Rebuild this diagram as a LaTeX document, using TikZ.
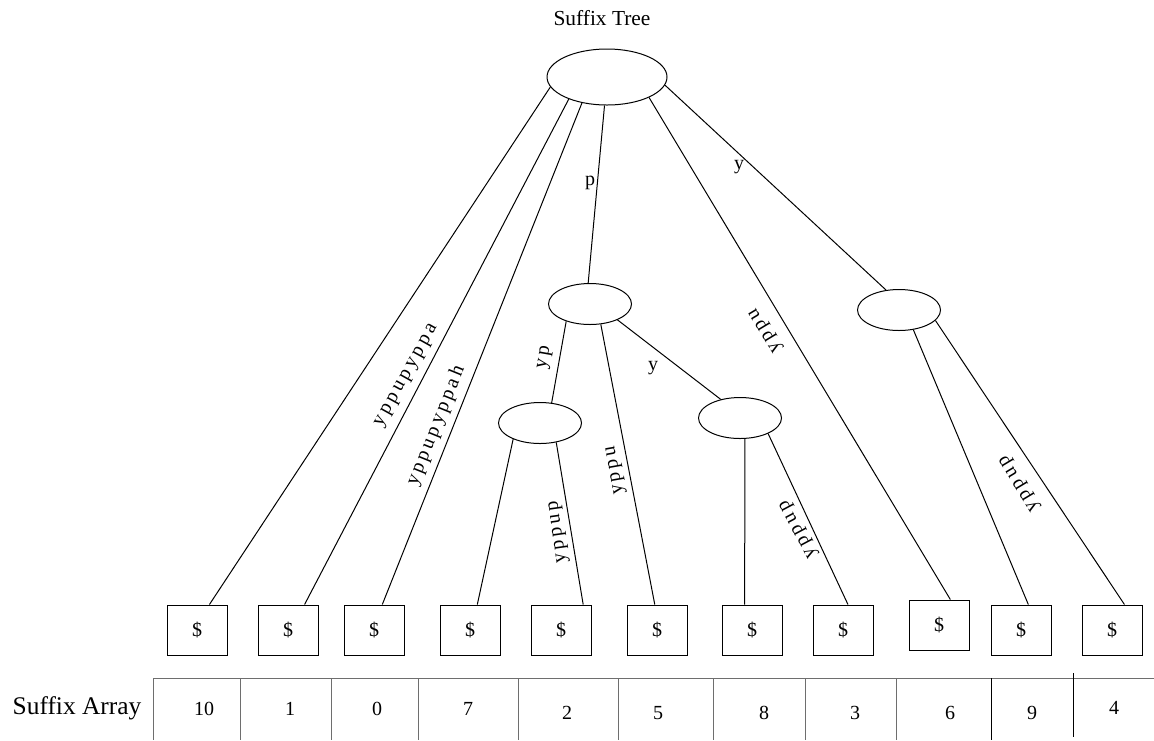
\documentclass[tikz,border=0pt]{standalone}
\usepackage{fontspec}
\setmainfont{Liberation Serif}
\usetikzlibrary{shapes.geometric}
\definecolor{CellLine}{HTML}{6E6E6E}
\begin{document}
\begin{tikzpicture}[x=0.5pt,y=-0.5pt,line width=0.5pt,
  inode/.style={draw,ellipse,inner sep=0pt,minimum width=41.5pt,minimum height=20.5pt},
  leaf/.style={draw,rectangle,inner sep=0pt,minimum width=30pt,minimum height=25pt,
    font=\fontsize{10}{12}\selectfont},
  elabel/.style={inner sep=0pt,font=\fontsize{10}{12}\selectfont\addfontfeatures{LetterSpace=16}},
  cellnum/.style={inner sep=0pt,font=\fontsize{10}{12}\selectfont}]
  \useasboundingbox (0,0) rectangle (1154,740);

  % --- titles ---
  \node[font=\fontsize{10.7}{13}\selectfont] (ttree) at (602,18) {Suffix Tree};
  \node[font=\fontsize{12.7}{15}\selectfont] (tarray) at (77,708) {Suffix Array};

  % --- inner nodes ---
  \node[inode,minimum width=60pt,minimum height=28pt] (root) at (607,77) {};
  \node[inode] (np)  at (590,304) {};
  \node[inode] (npy) at (540,423) {};
  \node[inode] (npu) at (740,418) {};
  \node[inode] (ny)  at (899,310) {};

  % --- leaves ---
  \node[leaf] (s10) at (197,630)  {\$};
  \node[leaf] (s1)  at (288,630)  {\$};
  \node[leaf] (s0)  at (374,630)  {\$};
  \node[leaf] (s7)  at (470,630)  {\$};
  \node[leaf] (s2)  at (561,630)  {\$};
  \node[leaf] (s5)  at (657,630)  {\$};
  \node[leaf] (s8)  at (752,630)  {\$};
  \node[leaf] (s3)  at (843,630)  {\$};
  \node[leaf] (s6)  at (939,625)  {\$};
  \node[leaf] (s9)  at (1021,630) {\$};
  \node[leaf] (s4)  at (1112,630) {\$};

  % --- edges ---
  \draw (root.190) -- (s10.64);
  \draw (root.210) -- (s1.57);
  \draw (root.226) -- (s0.72);
  \draw (root.265) -- (np.95);
  \draw (root.334) -- (s6.66);
  \draw (root.352) -- (ny.123);
  \draw (np.216) -- (npy.60);
  \draw (np.298) -- (s5.95);
  \draw (np.330) -- (npu.136);
  \draw (npy.211) -- (s7.74);
  \draw (npy.310) -- (s2.49);
  \draw (npu.283) -- (s8.106);
  \draw (npu.331) -- (s3.79);
  \draw (ny.306) -- (s9.74);
  \draw (ny.344) -- (s4.64);

  % --- edge labels ---
  \node[elabel,rotate=61]  (l1)  at (407,376)  {yppupyppa};
  \node[elabel,rotate=68]  (l2)  at (436,426)  {yppupyppah};
  \node[elabel]            (l3)  at (590,183)  {p};
  \node[elabel]            (l4)  at (739,167)  {y};
  \node[elabel,rotate=121] (l5)  at (766,330)  {yppu};
  \node[elabel,rotate=80]  (l6)  at (545,358)  {yp};
  \node[elabel]            (l7)  at (653,368)  {y};
  \node[elabel,rotate=100] (l8)  at (616,470)  {yppu};
  \node[elabel,rotate=98]  (l9)  at (559,532)  {yppup};
  \node[elabel,rotate=118] (l10) at (799,529)  {yppup};
  \node[elabel,rotate=121] (l11) at (1020,483) {yppup};

  % --- suffix array cells ---
  \draw[CellLine] (153,678) -- (1154,678);
  \draw[CellLine] (153,678) -- (153,740);
  \draw[CellLine] (240,678) -- (240,740);
  \draw[CellLine] (331,678) -- (331,740);
  \draw[CellLine] (418,678) -- (418,740);
  \draw[CellLine] (518,678) -- (518,740);
  \draw[CellLine] (618,678) -- (618,740);
  \draw[CellLine] (713,678) -- (713,740);
  \draw[CellLine] (805,678) -- (805,740);
  \draw[CellLine] (896,678) -- (896,740);
  \draw (991,678) -- (991,740);
  \draw (1073,673) -- (1073,737);
  \node[cellnum] (a1)  at (204,709)  {10};
  \node[cellnum] (a2)  at (290,709)  {1};
  \node[cellnum] (a3)  at (377,709)  {0};
  \node[cellnum] (a4)  at (468,709)  {7};
  \node[cellnum] (a5)  at (567,713)  {2};
  \node[cellnum] (a6)  at (658,713)  {5};
  \node[cellnum] (a7)  at (764,713)  {8};
  \node[cellnum] (a8)  at (855,713)  {3};
  \node[cellnum] (a9)  at (950,713)  {6};
  \node[cellnum] (a10) at (1032,713) {9};
  \node[cellnum] (a11) at (1114,708) {4};
\end{tikzpicture}
\end{document}
